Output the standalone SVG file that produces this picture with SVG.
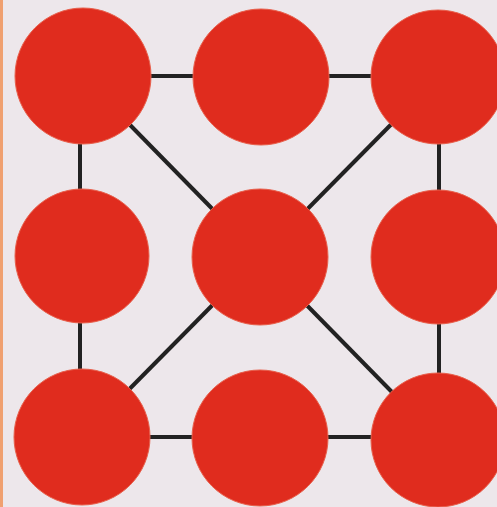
<svg xmlns="http://www.w3.org/2000/svg" width="497" height="507" viewBox="0 0 497 507">
<style>
.n{fill:#e02c1e;stroke:#e8604c;stroke-width:1}
.e{stroke:#222;stroke-width:4;fill:none}
</style>
<rect x="0" y="0" width="497" height="507" fill="#ede7eb"/>
<line x1="1.5" y1="0" x2="1.5" y2="507" stroke="#f0a070" stroke-width="3"/>
<g id="edges">
<line class="e" x1="82" y1="76" x2="439" y2="76"/>
<line class="e" x1="80" y1="76" x2="80" y2="437"/>
<line class="e" x1="439" y1="76" x2="439" y2="440"/>
<line class="e" x1="82" y1="437" x2="439" y2="437"/>
<line class="e" x1="82" y1="76" x2="439" y2="440"/>
<line class="e" x1="439" y1="76" x2="82" y2="437"/>
</g>
<g id="n1"><circle class="n" cx="83" cy="76" r="68"/></g>
<g id="n2"><circle class="n" cx="261" cy="77" r="68"/></g>
<g id="n3"><circle class="n" cx="438" cy="77" r="67"/></g>
<g id="n4"><circle class="n" cx="82" cy="256" r="67"/></g>
<g id="n5"><circle class="n" cx="260" cy="257" r="68"/></g>
<g id="n6"><circle class="n" cx="438" cy="257" r="67"/></g>
<g id="n7"><circle class="n" cx="82" cy="437" r="68"/></g>
<g id="n8"><circle class="n" cx="260" cy="438" r="68"/></g>
<g id="n9"><circle class="n" cx="438" cy="440" r="67"/></g>
</svg>
